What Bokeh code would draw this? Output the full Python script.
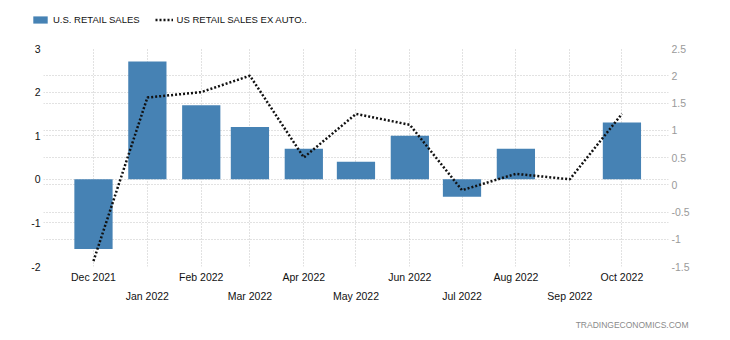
import datetime as dt
import pandas as pd
from bokeh.plotting import figure
from bokeh.layouts import column
from bokeh.models import (Range1d, LinearAxis, DatetimeAxis, FixedTicker, Grid, Legend,
                          LegendItem, Label, DatetimeTickFormatter, ColumnDataSource)
from bokeh.embed import file_html
from bokeh.resources import INLINE

# ---- data ----
months = ["2021-12-01", "2022-01-01", "2022-02-01", "2022-03-01", "2022-04-01", "2022-05-01",
          "2022-06-01", "2022-07-01", "2022-08-01", "2022-09-01", "2022-10-01"]
retail_sales = [-1.6, 2.7, 1.7, 1.2, 0.7, 0.4, 1.0, -0.4, 0.7, 0.0, 1.3]
retail_ex_auto = [-1.4, 1.6, 1.7, 2.0, 0.5, 1.3, 1.1, -0.1, 0.2, 0.1, 1.3]
left_ticks = [-2, -1, 0, 1, 2, 3]
right_ticks = [-1.5, -1, -0.5, 0, 0.5, 1, 1.5, 2, 2.5]
series_names = ["U.S. RETAIL SALES", "US RETAIL SALES EX AUTO.."]
watermark = "TRADINGECONOMICS.COM"

dates = pd.to_datetime(months)
src = ColumnDataSource(dict(x=dates, retail=retail_sales, exauto=retail_ex_auto))

def ms(t):
    return pd.Timestamp(t).value / 1e6

all_ms = [ms(d) for d in dates]
even_ms = all_ms[0::2]
odd_ms = all_ms[1::2]

FONT = "Liberation Sans"
GRID_COLOR = "#c4c4c4"
BAR_COLOR = "#4682B4"
LINE_COLOR = "#111111"
BAR_W = 22 * 86400000


def blank_fig(h):
    f = figure(width=730, height=h, x_range=Range1d(0, 1), y_range=Range1d(0, 1),
               output_backend="svg", toolbar_location=None, frame_align=False,
               min_border_left=0, min_border_right=0, min_border_top=0, min_border_bottom=0,
               outline_line_color=None, background_fill_color="white",
               border_fill_color="white")
    f.axis.visible = False
    f.grid.visible = False
    return f


# ---- legend strip (swatch renderers sit outside the visible range) ----
top = blank_fig(38)
swatch = ColumnDataSource(dict(x=[10, 11], y=[10, 10], top=[10, 10]))
lb = top.vbar(x="x", top="top", width=0.1, source=swatch, fill_color=BAR_COLOR, line_color=None)
ll = top.line(x="x", y="y", source=swatch, line_color=LINE_COLOR, line_width=2.5, line_dash="2 2")
legend = Legend(items=[LegendItem(label=series_names[0], renderers=[lb], index=0),
                       LegendItem(label=series_names[1], renderers=[ll])],
                orientation="horizontal", location=(31, 13),
                glyph_width=18, glyph_height=9, label_height=9, label_standoff=4,
                spacing=15, padding=0, margin=0,
                border_line_color=None, background_fill_alpha=0,
                label_text_font=FONT, label_text_font_size="9.5px",
                label_text_color="#111111")
top.add_layout(legend)

# ---- main chart ----
p = figure(width=730, height=272, x_axis_type="datetime",
           x_range=Range1d(dt.datetime(2021, 11, 2, 6), dt.datetime(2022, 10, 27, 19)),
           y_range=Range1d(-2, 3), frame_align=False,
           output_backend="svg", toolbar_location=None,
           min_border_left=43, min_border_right=62, min_border_top=10, min_border_bottom=44,
           outline_line_color=None, background_fill_color="white", border_fill_color="white")
p.extra_y_ranges = {"right": Range1d(-1.5, 2.5)}

bars = p.vbar(x="x", top="retail", bottom=0, width=BAR_W, source=src,
              fill_color=BAR_COLOR, line_color=None)
line = p.line(x="x", y="exauto", source=src, y_range_name="right",
              line_color=LINE_COLOR, line_width=2.5, line_dash="2 2")

# x axes (staggered labels)
ax1 = p.xaxis[0]
ax1.ticker = FixedTicker(ticks=even_ms)
ax2 = DatetimeAxis(ticker=FixedTicker(ticks=odd_ms))
p.add_layout(ax2, "below")
for ax, so in ((ax1, 4), (ax2, 4)):
    ax.formatter = DatetimeTickFormatter(months="%b %Y", days="%b %Y", years="%b %Y")
    ax.axis_line_color = None
    ax.major_tick_line_color = None
    ax.minor_tick_line_color = None
    ax.major_tick_out = 0
    ax.major_tick_in = 0
    ax.major_label_standoff = so
    ax.major_label_text_font = FONT
    ax.major_label_text_font_size = "10.5px"
    ax.major_label_text_color = "#111111"

ly = p.yaxis[0]
ly.ticker = FixedTicker(ticks=left_ticks)
ly.major_label_overrides = {t: str(t) for t in left_ticks}
ry = LinearAxis(y_range_name="right", ticker=FixedTicker(ticks=right_ticks))
ry.major_label_overrides = {t: (str(t) if t != int(t) else str(int(t))) for t in right_ticks}
p.add_layout(ry, "right")
for ax, col in ((ly, "#111111"), (ry, "#9a9a9a")):
    ax.axis_line_color = None
    ax.major_tick_line_color = None
    ax.minor_tick_line_color = None
    ax.major_tick_out = 0
    ax.major_tick_in = 0
    ax.major_label_standoff = 3
    ax.major_label_text_font = FONT
    ax.major_label_text_font_size = "10.5px"
    ax.major_label_text_color = col

p.xgrid.ticker = FixedTicker(ticks=all_ms)
p.ygrid.ticker = FixedTicker(ticks=left_ticks)
rgrid = Grid(dimension=1, ticker=FixedTicker(ticks=right_ticks), y_range_name="right")
p.add_layout(rgrid)
for g in (p.xgrid[0], p.ygrid[0], rgrid):
    g.grid_line_color = GRID_COLOR
    g.grid_line_dash = "1 2"
    g.grid_line_width = 1

# ---- watermark strip ----
bot = blank_fig(30)
bot.add_layout(Label(x=688, y=16, x_units="screen", y_units="screen", text=watermark,
                     text_align="right", text_baseline="middle", text_font=FONT,
                     text_font_size="8.5px", text_color="#8a8a8a"))

layout = column(top, p, bot, spacing=0)
open("out.html", "w").write(file_html(layout, INLINE))
